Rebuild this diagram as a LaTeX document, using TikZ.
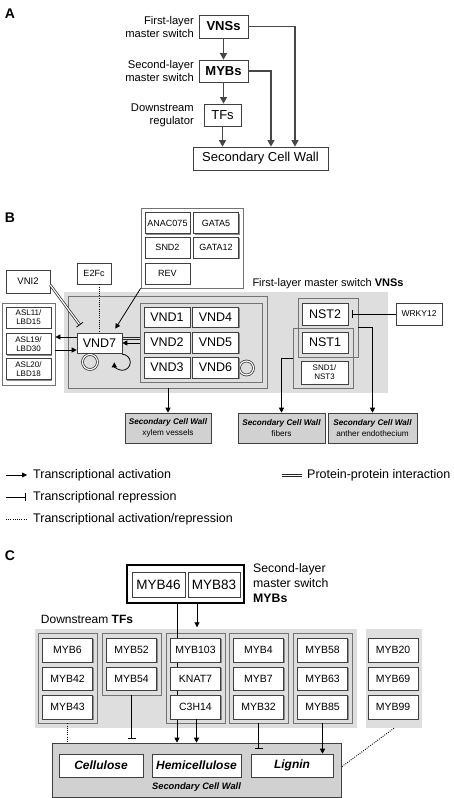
\documentclass[tikz,border=0pt]{standalone}
\usepackage{fontspec}
\setmainfont{Liberation Sans}
\usetikzlibrary{arrows.meta,shadows,calc}
\newcommand\myfs[2]{\fontsize{#1}{#2}\selectfont}
\begin{document}
\begin{tikzpicture}[x=1pt,y=-1pt,
  shd/.style={drop shadow={shadow xshift=1.2pt,shadow yshift=-1.2pt,fill=black!45,opacity=1}},
  boxA/.style={draw=black!75,line width=0.8pt,fill=white,shd,inner sep=0pt,align=center},
  box/.style={draw=black!75,line width=0.6pt,fill=white,shd,inner sep=0pt,align=center},
  grp/.style={draw=black!55,line width=0.8pt,inner sep=0pt},
  bkg/.style={fill=black!13,draw=none,inner sep=0pt},
  lab/.style={inner sep=0pt,align=right,font=\myfs{11.2}{13}},
  arA/.style={draw=black!72,line width=1.1pt,-{Triangle[width=7pt,length=6.5pt]}},
  arB/.style={draw=black,line width=0.8pt,-{Triangle[width=5pt,length=5pt]}},
  repB/.style={draw=black,line width=0.8pt,-{Bar[width=8pt]}},
  dotB/.style={draw=black,line width=0.9pt,dash pattern=on 0.9pt off 1.3pt},
  ppi/.style={draw=black!85,line width=0.7pt,double=white,double distance=1.2pt},
  ppl/.style={draw=black!85,line width=0.7pt},
  panel/.style={font=\myfs{14}{16}\bfseries,inner sep=0pt},
  vb/.style={box,minimum width=46pt,minimum height=20pt,font=\myfs{12.5}{14}},
  sb/.style={box,minimum width=45pt,minimum height=21pt,font=\myfs{9}{10}},
  ab/.style={box,minimum width=45pt,minimum height=21pt,font=\myfs{8}{9}},
  cb/.style={box,minimum width=50pt,minimum height=24pt,font=\myfs{10.5}{12}},
  scwb/.style={box,fill=black!18,minimum height=30pt,font=\myfs{8.2}{11}},
  leg/.style={inner sep=0pt,anchor=west,font=\myfs{12.5}{14}}
]
\useasboundingbox (0,0) rectangle (454,798);
\fill[white] (0,0) rectangle (454,798);

% ---------------- Panel A
\node[panel] (pA) at (10,14) {A};
\node[boxA,minimum width=49pt,minimum height=23pt,font=\myfs{13}{15}\bfseries] (vnsA) at (223.5,26.5) {VNSs};
\node[boxA,minimum width=49pt,minimum height=22pt,font=\myfs{13}{15}\bfseries] (mybA) at (223.5,71) {MYBs};
\node[boxA,minimum width=37pt,minimum height=22pt,font=\myfs{13}{15}] (tfA) at (222.5,115) {TFs};
\node[boxA,minimum width=135pt,minimum height=23pt,font=\myfs{13}{15}] (scwA) at (260.5,158.5) {Secondary Cell Wall};
\node[lab,anchor=east] (lA1) at (194,26.5) {First-layer\\master switch};
\node[lab,anchor=east] (lA2) at (194,70.5) {Second-layer\\master switch};
\node[lab,anchor=east] (lA3) at (194,115.5) {Downstream\\regulator};
\draw[arA] (vnsA.south) -- (vnsA.south |- mybA.north);
\draw[arA] (mybA.south) -- (mybA.south |- tfA.north);
\draw[arA] (tfA.south) -- (tfA.south |- scwA.north);
\draw[arA] (vnsA.east) -| ([xshift=34.5pt]scwA.north);
\draw[arA] (mybA.east) -| ([xshift=10.5pt]scwA.north);

% ---------------- Panel B
\node[panel] (pB) at (10,218) {B};
\node[grp,fill=white,minimum width=102pt,minimum height=80pt] (anacG) at (192,248) {};
\node[sb] (anac) at (167.5,223) {ANAC075};
\node[sb] (gata5) at (216,223) {GATA5};
\node[sb] (snd2) at (167.5,247.5) {SND2};
\node[sb] (gata12) at (216,247.5) {GATA12};
\node[sb] (rev) at (167.5,273.5) {REV};
\node[sb,minimum width=34pt] (e2fc) at (94,273.5) {E2Fc};
\node[sb,minimum width=44pt,minimum height=23pt,font=\myfs{9.5}{10}] (vni2) at (28,281.5) {VNI2};
\node[grp,fill=white,minimum width=53pt,minimum height=82pt] (aslG) at (28.5,344) {};
\node[ab] (asl11) at (28.5,317.5) {ASL11/\\LBD15};
\node[ab] (asl19) at (28.5,344) {ASL19/\\LBD30};
\node[ab] (asl20) at (28.5,369) {ASL20/\\LBD18};

\node[bkg,minimum width=324pt,minimum height=101pt] (bkB) at (226,342.5) {};
\node[grp,minimum width=199pt,minimum height=92pt] (vndG) at (167.5,342) {};
\node[grp,minimum width=122pt,minimum height=79pt] (vndI) at (201,342.5) {};
\node[grp,minimum width=60pt,minimum height=59pt] (nstA) at (328,327.5) {};
\node[grp,minimum width=60pt,minimum height=60pt] (nstB) at (323,358) {};
\node[inner sep=0pt,font=\myfs{11}{13}] (vnsT) at (328,284) {First-layer master switch \textbf{VNSs}};

% loops (behind boxes)
\draw[ppi] (90,362) circle (7.5pt);
\draw[ppi] (246.5,368) circle (7pt);

\node[vb,minimum width=45pt] (vnd7) at (99.5,343) {VND7};
\node[vb] (vnd1) at (167,317) {VND1};
\node[vb] (vnd4) at (215.5,317) {VND4};
\node[vb,minimum height=21pt] (vnd2) at (167,342.5) {VND2};
\node[vb,minimum height=21pt] (vnd5) at (215.5,342.5) {VND5};
\node[vb,minimum height=21pt] (vnd3) at (167,367.5) {VND3};
\node[vb,minimum height=21pt] (vnd6) at (215.5,367.5) {VND6};
\node[vb,minimum height=22pt] (nst2) at (325,314) {NST2};
\node[vb,minimum height=21pt] (nst1) at (325,342.5) {NST1};
\node[ab,minimum width=47pt,minimum height=23pt] (snd1) at (324.5,372.5) {SND1/\\NST3};
\node[sb,minimum width=46pt,minimum height=22pt,font=\myfs{8.5}{10}] (wrky) at (419,314) {WRKY12};

\node[scwb,minimum width=86pt] (scwX) at (168,428) {\textbf{\textit{Secondary Cell Wall}}\\xylem vessels};
\node[scwb,minimum width=87pt] (scwF) at (281.5,428) {\textbf{\textit{Secondary Cell Wall}}\\fibers};
\node[scwb,minimum width=89pt] (scwN) at (372.5,428) {\textbf{\textit{Secondary Cell Wall}}\\anther endothecium};

% connectors B
\draw[arB] (anacG.south west) -- ([xshift=-7pt,yshift=4pt]vnd7.north east);
\draw[dotB] ([xshift=5pt]e2fc.south) -- ([xshift=5pt]e2fc.south |- vnd7.north);
\coordinate (vs) at ([yshift=-3.5pt]vni2.east);
\coordinate (ve) at ([xshift=3pt,yshift=8pt]vnd7.north west);
\draw[ppi] (vs) -- (ve);
\draw[black,line width=0.8pt] ($(ve)!4pt!90:(vs)$) -- ($(ve)!4pt!-90:(vs)$);
\draw[arB] ([yshift=6pt]vnd7.west) -- ([yshift=6pt]vnd7.west -| aslG.east);
\draw[arB] ([yshift=-7pt]vnd7.west -| aslG.east) -- ([yshift=-7pt]vnd7.west);
\draw[ppl] ([yshift=6pt]vnd7.east) -- ([yshift=6pt]vnd7.east -| vndI.west);
\draw[ppl] ([yshift=4pt]vnd7.east) -- ([yshift=4pt]vnd7.east -| vndI.west);
\draw[arB] ([yshift=0pt]vnd7.east -| vndI.west) -- ([yshift=0pt]vnd7.east);
\begin{scope}[shift={(vnd7.south east)}]
\draw[arB] (0,1) .. controls (4.4,1) and (8,4.6) .. (8,9) .. controls (8,13.4) and (4.4,17) .. (0,17) .. controls (-4.4,17) and (-8,13.4) .. (-8,9);
\end{scope}
\draw[arB] (vndG.south -| scwX.north) -- (scwX.north);
\draw[repB] (wrky.west) -- ([xshift=4pt]nst2.east);
\draw[arB] (nstA.east) -| (scwN.north);
\draw[arB] (nstB.west) -| (scwF.north);

% ---------------- Legend
\coordinate (l1a) at (6,475); \coordinate (l1b) at (27,475);
\coordinate (l2a) at (6,497); \coordinate (l2b) at (26,497);
\coordinate (l3a) at (6,519); \coordinate (l3b) at (27,519);
\coordinate (l4a) at (282,474); \coordinate (l4b) at (302,474);
\coordinate (l5a) at (282,476); \coordinate (l5b) at (302,476);
\draw[arB] (l1a) -- (l1b);
\draw[repB] (l2a) -- (l2b);
\draw[dotB] (l3a) -- (l3b);
\draw[ppl] (l4a) -- (l4b);
\draw[ppl] (l5a) -- (l5b);
\node[leg] (t1) at (33,475) {Transcriptional activation};
\node[leg] (t2) at (33,497) {Transcriptional repression};
\node[leg] (t3) at (33,519) {Transcriptional activation/repression};
\node[leg] (t4) at (307,475) {Protein-protein interaction};

% ---------------- Panel C
\node[panel] (pC) at (10,556) {C};
\node[draw=black,line width=1.3pt,fill=white,shd,minimum width=117pt,minimum height=38pt,inner sep=0pt] (mybG) at (185.5,584) {};
\node[box,minimum width=53pt,minimum height=25pt,font=\myfs{13.5}{15}] (myb46) at (158.5,584.5) {MYB46};
\node[box,minimum width=52pt,minimum height=25pt,font=\myfs{13.5}{15}] (myb83) at (214,584.5) {MYB83};
\node[inner sep=0pt,anchor=west,align=left,font=\myfs{12.3}{15}] (mybT) at (253,583) {Second-layer\\master switch\\\textbf{MYBs}};
\node[inner sep=0pt,font=\myfs{12}{14}] (tfT) at (87,619) {Downstream \textbf{TFs}};

\node[bkg,minimum width=322pt,minimum height=99pt] (bdC) at (196,678.5) {};
\node[bkg,minimum width=56pt,minimum height=99pt] (bd2) at (394,678.5) {};
\node[grp,minimum width=59pt,minimum height=90pt] (g1) at (67.5,678) {};
\node[grp,minimum width=59pt,minimum height=62pt] (g2) at (131.5,664) {};
\node[grp,minimum width=59pt,minimum height=90pt] (g3) at (195.5,678) {};
\node[grp,minimum width=59pt,minimum height=90pt] (g4) at (258.5,678) {};
\node[grp,minimum width=59pt,minimum height=90pt] (g5) at (322.5,678) {};

\node[box,fill=black!18,minimum width=289pt,minimum height=54pt] (scwC) at (196.5,770) {};
\node[inner sep=0pt,font=\myfs{9.3}{11}\bfseries\itshape] (scwCT) at (196.5,787) {Secondary Cell Wall};

% MYB46 line behind group-3 boxes
\draw[arB] ([xshift=-8.5pt]mybG.south) -- ([xshift=-8.5pt]mybG.south |- scwC.north);
\draw[arB] ([xshift=11.5pt]mybG.south) -- ([xshift=11.5pt,yshift=1.5pt]mybG.south |- bdC.north);

\node[cb] (m6) at (67.5,650) {MYB6};
\node[cb,minimum height=23pt] (m42) at (67.5,678.5) {MYB42};
\node[cb] (m43) at (67.5,707) {MYB43};
\node[cb] (m52) at (131.5,650) {MYB52};
\node[cb,minimum height=23pt] (m54) at (131.5,678.5) {MYB54};
\node[cb] (m103) at (195.5,650) {MYB103};
\node[cb,minimum height=23pt] (knat) at (195.5,678.5) {KNAT7};
\node[cb] (c3h) at (195.5,707) {C3H14};
\node[cb] (m4) at (258.5,650) {MYB4};
\node[cb,minimum height=23pt] (m7) at (258.5,678.5) {MYB7};
\node[cb] (m32) at (258.5,707) {MYB32};
\node[cb] (m58) at (322.5,650) {MYB58};
\node[cb,minimum height=23pt] (m63) at (322.5,678.5) {MYB63};
\node[cb] (m85) at (322.5,707) {MYB85};
\node[cb] (m20) at (393,650) {MYB20};
\node[cb,minimum height=23pt] (m69) at (393,678.5) {MYB69};
\node[cb] (m99) at (393,707) {MYB99};

\node[box,minimum width=84pt,minimum height=23pt,font=\myfs{12}{14}\bfseries\itshape] (cel) at (101,765.5) {Cellulose};
\node[box,minimum width=89pt,minimum height=23pt,font=\myfs{12}{14}\bfseries\itshape] (hemi) at (196.5,765.5) {Hemicellulose};
\node[box,minimum width=82pt,minimum height=23pt,font=\myfs{12}{14}\bfseries\itshape] (lig) at (292,765.5) {Lignin};

\draw[arB] ([xshift=1pt]c3h.south) -- ([xshift=1pt]c3h.south |- scwC.north);
\draw[dotB] (g1.south) -- (g1.south |- scwC.north);
\draw[repB,shorten >=4pt] (g2.south) -- (g2.south |- scwC.north);
\draw[repB,shorten >=5pt] (g4.south) -- (g4.south |- lig.north);
\draw[arB] (g5.south) -- (g5.south |- lig.north);
\draw[dotB] (bd2.south) -- ([yshift=3pt]scwC.east);
\end{tikzpicture}
\end{document}
